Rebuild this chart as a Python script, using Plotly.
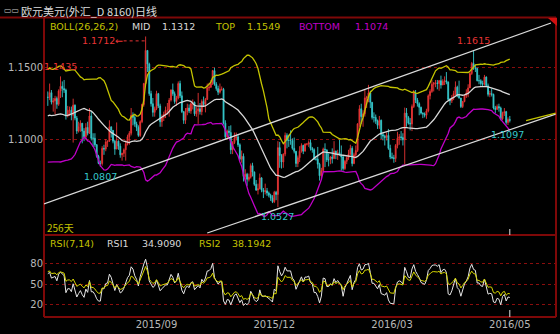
import numpy as np
import pandas as pd
import plotly.graph_objects as go

W, H = 560, 334

# ---------------- data (EUR/USD daily) ----------------
# closes of the 25 sessions preceding the visible window (needed for BOLL/RSI)
warmup_close = [1.1195, 1.1345, 1.1265, 1.1200, 1.1155, 1.1215, 1.1345, 1.1410, 1.1445,
                1.1315, 1.1145, 1.1095, 1.1105, 1.1015, 1.0985, 1.0875, 1.0900, 1.0935,
                1.0985, 1.0925, 1.1150, 1.1245, 1.1240, 1.1115, 1.1290]

close = [
    # 2015-06 (from 9th)
    1.1289, 1.1322, 1.1256, 1.1265, 1.1281, 1.1241, 1.1333, 1.1366, 1.1350, 1.1340, 1.1160, 1.1200, 1.1200, 1.1165, 1.1235, 1.1145,
    # 2015-07
    1.1055, 1.1085, 1.1110, 1.1055, 1.1015, 1.1080, 1.1040, 1.1160, 1.1005, 1.1005, 1.0960, 1.0880, 1.0830, 1.0830, 1.0935, 1.0930, 1.0980, 1.0985, 1.1085, 1.1060, 1.0985, 1.0930, 1.0985,
    # 2015-08
    1.0950, 1.0890, 1.0900, 1.0925, 1.0965, 1.1015, 1.1040, 1.1165, 1.1150, 1.1105, 1.1080, 1.1025, 1.1120, 1.1240, 1.1385, 1.1615, 1.1520, 1.1315, 1.1245, 1.1185, 1.1210,
    # 2015-09
    1.1315, 1.1230, 1.1120, 1.1150, 1.1170, 1.1200, 1.1200, 1.1270, 1.1340, 1.1315, 1.1260, 1.1285, 1.1385, 1.1300, 1.1190, 1.1130, 1.1190, 1.1215, 1.1195, 1.1245, 1.1255, 1.1175,
    # 2015-10
    1.1195, 1.1210, 1.1190, 1.1260, 1.1240, 1.1275, 1.1355, 1.1360, 1.1385, 1.1475, 1.1380, 1.1350, 1.1325, 1.1345, 1.1345, 1.1110, 1.1015, 1.1055, 1.1045, 1.0925, 1.0975, 1.1005,
    # 2015-11
    1.1015, 1.0960, 1.0860, 1.0880, 1.0740, 1.0755, 1.0720, 1.0735, 1.0815, 1.0770, 1.0685, 1.0645, 1.0655, 1.0730, 1.0645, 1.0635, 1.0640, 1.0625, 1.0610, 1.0590, 1.0565,
    # 2015-12
    1.0630, 1.0615, 1.0940, 1.0885, 1.0840, 1.0895, 1.1025, 1.0990, 1.0990, 1.0990, 1.0935, 1.0915, 1.0830, 1.0870, 1.0915, 1.0955, 1.0915, 1.0965, 1.0965, 1.0975, 1.0935, 1.0925, 1.0860,
    # 2016-01
    1.0860, 1.0825, 1.0745, 1.0780, 1.0930, 1.0925, 1.0855, 1.0855, 1.0875, 1.0865, 1.0915, 1.0890, 1.0905, 1.0890, 1.0875, 1.0795, 1.0845, 1.0870, 1.0895, 1.0935, 1.0830,
    # 2016-02
    1.0890, 1.0920, 1.1105, 1.1210, 1.1155, 1.1175, 1.1285, 1.1290, 1.1320, 1.1255, 1.1150, 1.1150, 1.1125, 1.1095, 1.1130, 1.1030, 1.1020, 1.1010, 1.1025, 1.0935, 1.0875,
    # 2016-03
    1.0870, 1.0865, 1.0955, 1.1005, 1.1015, 1.1010, 1.0995, 1.1180, 1.1150, 1.1110, 1.1105, 1.1225, 1.1320, 1.1270, 1.1245, 1.1220, 1.1180, 1.1175, 1.1165, 1.1195, 1.1300, 1.1330, 1.1380,
    # 2016-04
    1.1390, 1.1390, 1.1385, 1.1405, 1.1375, 1.1400, 1.1405, 1.1395, 1.1275, 1.1265, 1.1285, 1.1315, 1.1360, 1.1300, 1.1285, 1.1225, 1.1260, 1.1300, 1.1320, 1.1355, 1.1455,
    # 2016-05
    1.1525, 1.1495, 1.1490, 1.1405, 1.1405, 1.1385, 1.1380, 1.1430, 1.1370, 1.1310, 1.1315, 1.1310, 1.1215, 1.1205, 1.1225, 1.1215, 1.1140, 1.1180, 1.1190, 1.1115, 1.1135, 1.1130,
]

high = [
    1.1330, 1.1385, 1.1340, 1.1285, 1.1300, 1.1295, 1.1345, 1.1435, 1.1400, 1.1410, 1.1350, 1.1230, 1.1225, 1.1225, 1.1280, 1.1240,
    1.1160, 1.1120, 1.1130, 1.1110, 1.1075, 1.1110, 1.1120, 1.1215, 1.1195, 1.1040, 1.1040, 1.0965, 1.0890, 1.0850, 1.0950, 1.0960, 1.1000, 1.0990, 1.1130, 1.1085, 1.1060, 1.0995, 1.1115,
    1.0990, 1.0970, 1.0905, 1.0935, 1.0990, 1.1030, 1.1055, 1.1215, 1.1185, 1.1165, 1.1120, 1.1095, 1.1130, 1.1245, 1.1390, 1.1712, 1.1615, 1.1530, 1.1335, 1.1285, 1.1225,
    1.1335, 1.1320, 1.1245, 1.1170, 1.1190, 1.1225, 1.1250, 1.1285, 1.1345, 1.1385, 1.1330, 1.1300, 1.1400, 1.1405, 1.1330, 1.1195, 1.1215, 1.1245, 1.1240, 1.1255, 1.1275, 1.1260,
    1.1225, 1.1320, 1.1250, 1.1275, 1.1295, 1.1285, 1.1385, 1.1390, 1.1410, 1.1480, 1.1495, 1.1395, 1.1370, 1.1385, 1.1365, 1.1355, 1.1130, 1.1065, 1.1090, 1.1095, 1.0985, 1.1045,
    1.1045, 1.1030, 1.0970, 1.0920, 1.0900, 1.0790, 1.0765, 1.0760, 1.0830, 1.0835, 1.0775, 1.0715, 1.0690, 1.0760, 1.0735, 1.0660, 1.0690, 1.0660, 1.0635, 1.0620, 1.0610,
    1.0640, 1.0640, 1.0985, 1.0980, 1.0895, 1.0900, 1.1045, 1.1040, 1.1030, 1.1060, 1.1005, 1.1010, 1.0915, 1.0885, 1.0950, 1.0970, 1.0960, 1.0970, 1.0970, 1.0990, 1.0995, 1.0945, 1.0935,
    1.0870, 1.0945, 1.0835, 1.0800, 1.0940, 1.0970, 1.0925, 1.0900, 1.0880, 1.0935, 1.0985, 1.0920, 1.0925, 1.0995, 1.0955, 1.0885, 1.0855, 1.0880, 1.0925, 1.0960, 1.0950,
    1.0905, 1.0955, 1.1110, 1.1235, 1.1245, 1.1200, 1.1340, 1.1300, 1.1376, 1.1335, 1.1255, 1.1185, 1.1170, 1.1135, 1.1160, 1.1135, 1.1050, 1.1030, 1.1045, 1.1070, 1.0960,
    1.0905, 1.0890, 1.0965, 1.1050, 1.1035, 1.1055, 1.1040, 1.1218, 1.1215, 1.1160, 1.1145, 1.1240, 1.1340, 1.1340, 1.1285, 1.1255, 1.1225, 1.1185, 1.1185, 1.1210, 1.1310, 1.1345, 1.1410,
    1.1395, 1.1410, 1.1410, 1.1410, 1.1440, 1.1415, 1.1435, 1.1465, 1.1400, 1.1285, 1.1305, 1.1335, 1.1400, 1.1370, 1.1405, 1.1285, 1.1265, 1.1310, 1.1345, 1.1380, 1.1465,
    1.1535, 1.1615, 1.1515, 1.1495, 1.1445, 1.1415, 1.1405, 1.1445, 1.1435, 1.1385, 1.1335, 1.1350, 1.1315, 1.1230, 1.1240, 1.1245, 1.1225, 1.1190, 1.1215, 1.1195, 1.1150, 1.1160,
]

low = [
    1.1230, 1.1270, 1.1240, 1.1190, 1.1170, 1.1210, 1.1230, 1.1285, 1.1290, 1.1320, 1.1135, 1.1150, 1.1160, 1.1130, 1.0975, 1.1130,
    1.1035, 1.1045, 1.1050, 1.0970, 1.0985, 1.0995, 1.1025, 1.1035, 1.0990, 1.0945, 1.0945, 1.0870, 1.0825, 1.0807, 1.0815, 1.0890, 1.0915, 1.0945, 1.0980, 1.1010, 1.0970, 1.0890, 1.0930,
    1.0925, 1.0870, 1.0850, 1.0875, 1.0850, 1.0955, 1.0960, 1.1025, 1.1095, 1.1085, 1.1055, 1.1015, 1.1015, 1.1110, 1.1225, 1.1385, 1.1465, 1.1300, 1.1225, 1.1155, 1.1155,
    1.1200, 1.1215, 1.1085, 1.1085, 1.1125, 1.1145, 1.1170, 1.1155, 1.1260, 1.1300, 1.1245, 1.1230, 1.1275, 1.1285, 1.1180, 1.1105, 1.1105, 1.1165, 1.1180, 1.1175, 1.1205, 1.1160,
    1.1155, 1.1105, 1.1170, 1.1165, 1.1225, 1.1185, 1.1270, 1.1335, 1.1355, 1.1375, 1.1370, 1.1335, 1.1305, 1.1315, 1.1335, 1.1100, 1.0995, 1.0995, 1.1020, 1.0895, 1.0895, 1.0965,
    1.0990, 1.0945, 1.0850, 1.0835, 1.0705, 1.0705, 1.0675, 1.0705, 1.0725, 1.0740, 1.0675, 1.0640, 1.0615, 1.0650, 1.0630, 1.0590, 1.0615, 1.0605, 1.0595, 1.0570, 1.0555,
    1.0555, 1.0575, 1.0527, 1.0800, 1.0795, 1.0800, 1.0880, 1.0935, 1.0945, 1.0960, 1.0925, 1.0900, 1.0805, 1.0805, 1.0840, 1.0905, 1.0895, 1.0915, 1.0955, 1.0945, 1.0920, 1.0905, 1.0855,
    1.0850, 1.0795, 1.0711, 1.0715, 1.0770, 1.0805, 1.0840, 1.0810, 1.0825, 1.0830, 1.0860, 1.0860, 1.0855, 1.0885, 1.0780, 1.0780, 1.0785, 1.0825, 1.0855, 1.0885, 1.0810,
    1.0825, 1.0865, 1.0910, 1.1085, 1.1105, 1.1085, 1.1155, 1.1215, 1.1255, 1.1215, 1.1135, 1.1115, 1.1105, 1.1070, 1.1070, 1.1000, 1.0990, 1.0955, 1.0990, 1.0925, 1.0860,
    1.0860, 1.0835, 1.0840, 1.0935, 1.0960, 1.0990, 1.0955, 1.0822, 1.1085, 1.1100, 1.1060, 1.1055, 1.1215, 1.1250, 1.1225, 1.1165, 1.1170, 1.1145, 1.1150, 1.1140, 1.1185, 1.1275, 1.1320,
    1.1330, 1.1360, 1.1345, 1.1335, 1.1350, 1.1375, 1.1375, 1.1380, 1.1265, 1.1235, 1.1250, 1.1270, 1.1305, 1.1290, 1.1280, 1.1215, 1.1215, 1.1255, 1.1285, 1.1290, 1.1355,
    1.1445, 1.1480, 1.1465, 1.1400, 1.1380, 1.1370, 1.1365, 1.1370, 1.1365, 1.1295, 1.1290, 1.1295, 1.1205, 1.1180, 1.1205, 1.1190, 1.1130, 1.1130, 1.1160, 1.1100, 1.1097, 1.1115,
]

assert len(close) == len(high) == len(low) == 256, (len(close), len(high), len(low))

# x-axis labels: bar index of the labelled session
xtick_idx = [60, 125, 190, 255]
xtick_text = ["2015/09", "2015/12", "2016/03", "2016/05"]

# indicator read-outs shown in the legends
boll_readout = {"MID": "1.1312", "TOP": "1.1549", "BOTTOM": "1.1074"}
rsi_readout = {"RSI1": "34.9090", "RSI2": "38.1942"}

# marked extremes (bar indices)
marked_high = [7, 235]
marked_low = [29, 127, 254]
peak_idx = 54  # labelled with arrow

# hand-drawn channel lines: (bar index, price)
channel_upper = [(-2.1, 1.05486), (277.7, 1.18056)]
channel_lower = [(88.0, 1.03472), (280.3, 1.11729)]
channel_tail = [(264.0, 1.11270), (280.3, 1.11800)]

# ---------------- derived series ----------------
n = len(close)
idx = np.arange(n)
open_ = [warmup_close[-1]] + close[:-1]

full = pd.Series(warmup_close + close)
mid = full.rolling(26).mean()
sd = full.rolling(26).std(ddof=1)
top = mid + 2 * sd
bot = mid - 2 * sd
mid, top, bot = (s.iloc[-n:].to_numpy() for s in (mid, top, bot))


def sma_cn(x, N, M=1):
    out = np.empty(len(x))
    out[0] = x[0]
    for i in range(1, len(x)):
        out[i] = (M * x[i] + (N - M) * out[i - 1]) / N
    return out


farr = full.to_numpy()
d = np.diff(farr)
up = np.maximum(d, 0)
ab = np.abs(d)
rsi1 = (sma_cn(up, 7) / np.maximum(sma_cn(ab, 7), 1e-9) * 100)[-n:]
rsi2 = (sma_cn(up, 14) / np.maximum(sma_cn(ab, 14), 1e-9) * 100)[-n:]

# ---------------- geometry / style ----------------
FX0, FX1 = 44, 556
FY_TOP, FY_MID, FY_BOT = 17.5, 235, 317
x_range = [-2.1, 280.5]
price_range = [1.03333, 1.18438]
rsi_range = [2.1, 122.0]
PX = (FX1 - FX0) / (x_range[1] - x_range[0])
PY = (FY_MID - FY_TOP) / (price_range[1] - price_range[0])

def xp(px):
    return px / W

def yp(py):
    return 1 - py / H

BG = "#000000"
FRAME = "#7E0808"
GRID = "#8A0E0E"
RED = "#E83434"
CYAN = "#36C8CC"
YEL = "#C4C400"
MAG = "#C000C8"
WHITE = "#D8D8D8"
AXTXT = "#B8B8B8"
FONT = "DejaVu Sans"
CJK = "Noto Sans CJK SC"

fig = go.Figure()

fig.add_trace(go.Candlestick(
    x=idx, open=open_, high=high, low=low, close=close,
    increasing=dict(line=dict(color=RED, width=0.9), fillcolor=RED),
    decreasing=dict(line=dict(color=CYAN, width=0.9), fillcolor=CYAN),
    whiskerwidth=0, showlegend=False, hoverinfo="skip", xaxis="x", yaxis="y"))

for ser, col in ((mid, WHITE), (top, YEL), (bot, MAG)):
    fig.add_trace(go.Scatter(x=idx, y=ser, mode="lines", line=dict(color=col, width=1.3),
                             showlegend=False, hoverinfo="skip", xaxis="x", yaxis="y"))

fig.add_trace(go.Scatter(x=idx, y=rsi1, mode="lines", line=dict(color="#E6E6E6", width=1),
                         showlegend=False, hoverinfo="skip", xaxis="x2", yaxis="y2"))
fig.add_trace(go.Scatter(x=idx, y=rsi2, mode="lines", line=dict(color="#D6D600", width=1),
                         showlegend=False, hoverinfo="skip", xaxis="x2", yaxis="y2"))

shapes = []
# frame
shapes.append(dict(type="line", xref="paper", yref="paper", x0=0, x1=xp(FX1), y0=yp(FY_TOP), y1=yp(FY_TOP), line=dict(color=FRAME, width=2)))
for yy in (FY_MID, FY_BOT):
    shapes.append(dict(type="line", xref="paper", yref="paper", x0=xp(FX0), x1=xp(FX1), y0=yp(yy), y1=yp(yy), line=dict(color=FRAME, width=2)))
for xx in (FX0, FX1):
    shapes.append(dict(type="line", xref="paper", yref="paper", x0=xp(xx), x1=xp(xx), y0=yp(FY_TOP), y1=yp(FY_BOT), line=dict(color=FRAME, width=2)))
shapes.append(dict(type="path", xref="paper", yref="paper",
                   path=f"M {xp(548)} {yp(18)} L {xp(557)} {yp(18)} L {xp(557)} {yp(26)} Z",
                   fillcolor="#D01010", line=dict(width=0)))
# channel lines
for ln, col in ((channel_upper, "#DADADA"), (channel_lower, "#DADADA"), (channel_tail, YEL)):
    shapes.append(dict(type="line", xref="x", yref="y", x0=ln[0][0], y0=ln[0][1], x1=ln[1][0], y1=ln[1][1],
                       line=dict(color=col, width=1.3)))
# dotted pointer to the peak
pk_y = high[peak_idx] - 4.4 / PY
shapes.append(dict(type="line", xref="x", yref="y", x0=peak_idx - 22 / PX, x1=peak_idx, y0=pk_y, y1=pk_y,
                   line=dict(color=RED, width=1, dash="dot")))
# cursor ticks at last bar
for y0, y1 in ((229, FY_MID), (310, FY_BOT)):
    shapes.append(dict(type="line", xref="x", yref="paper", x0=n - 1, x1=n - 1, y0=yp(y0), y1=yp(y1),
                       line=dict(color="#E0E0E0", width=1)))

ann = []

def txt(x, y, s, color, size=9.5, family=FONT, anchor="left"):
    ann.append(dict(x=xp(x), y=yp(y), xref="paper", yref="paper", text=s, showarrow=False,
                    xanchor=anchor, yanchor="middle", font=dict(color=color, size=size, family=family)))

txt(2, 10.5, "▭▭", "#C8C8C8", size=8)
txt(19, 10.5, "欧元美元(外汇_D 8160)日线", "#DCDCDC", size=11, family=CJK)
txt(48, 26, "BOLL(26,26,2)", YEL)
txt(130, 26, "MID", WHITE)
txt(160, 26, boll_readout["MID"], WHITE)
txt(213, 26, "TOP", YEL)
txt(245, 26, boll_readout["TOP"], YEL)
txt(297, 26, "BOTTOM", MAG)
txt(353, 26, boll_readout["BOTTOM"], MAG)
txt(45, 227, "256天", YEL, size=10, family=CJK)
txt(48, 243.5, "RSI(7,14)", YEL)
txt(105, 243.5, "RSI1", WHITE)
txt(140, 243.5, rsi_readout["RSI1"], WHITE)
txt(197, 243.5, "RSI2", YEL)
txt(230, 243.5, rsi_readout["RSI2"], YEL)

for i in marked_high:
    ann.append(dict(x=i, y=high[i], xref="x", yref="y", text=f"{high[i]:.4f}", showarrow=False,
                    xanchor="center", yanchor="bottom", yshift=2,
                    font=dict(color=RED, size=9.5, family=FONT)))
for i in marked_low:
    ann.append(dict(x=i, y=low[i], xref="x", yref="y", text=f"{low[i]:.4f}", showarrow=False,
                    xanchor="center", yanchor="top", yshift=-2,
                    font=dict(color=CYAN, size=9.5, family=FONT)))
ann.append(dict(x=peak_idx, y=high[peak_idx], xref="x", yref="y", text=f"{high[peak_idx]:.4f}←",
                showarrow=False, xanchor="right", yanchor="middle", xshift=-21, yshift=-4.4,
                font=dict(color=RED, size=9.5, family=FONT)))

axfont = dict(color=AXTXT, size=10, family=FONT)
fig.update_layout(
    width=W, height=H, margin=dict(l=0, r=0, t=0, b=0),
    paper_bgcolor=BG, plot_bgcolor=BG, showlegend=False,
    shapes=shapes, annotations=ann,
    xaxis=dict(domain=[xp(FX0), xp(FX1)], range=x_range, anchor="y", showgrid=False, zeroline=False,
               showticklabels=False, showline=False, rangeslider=dict(visible=False), fixedrange=True),
    xaxis2=dict(domain=[xp(FX0), xp(FX1)], range=x_range, anchor="y2", matches="x", showgrid=False,
                zeroline=False, showline=False, tickmode="array", tickvals=xtick_idx, ticktext=xtick_text,
                ticks="", tickfont=axfont, fixedrange=True),
    yaxis=dict(domain=[yp(FY_MID), yp(FY_TOP)], range=price_range, anchor="x", tickmode="array",
               tickvals=[1.10, 1.15], ticktext=["1.1000", "1.1500"], ticks="", tickfont=axfont,
               showgrid=True, gridcolor=GRID, griddash="dot", gridwidth=1, zeroline=False, showline=False,
               fixedrange=True),
    yaxis2=dict(domain=[yp(FY_BOT), yp(FY_MID)], range=rsi_range, anchor="x2", tickmode="array",
                tickvals=[20, 50, 80], ticktext=["20", "50", "80"], ticks="", tickfont=axfont,
                showgrid=True, gridcolor=GRID, griddash="dot", gridwidth=1, zeroline=False, showline=False,
                fixedrange=True),
)

fig.write_html("out.html")
